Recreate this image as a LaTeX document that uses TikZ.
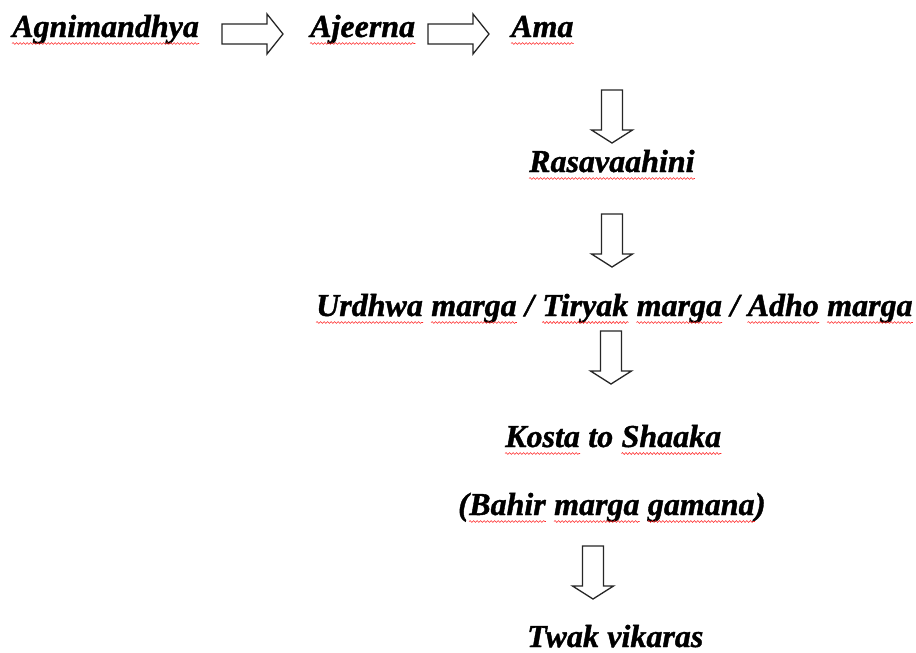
\documentclass[tikz,border=0pt]{standalone}
\usepackage{fontspec}
\setmainfont[BoldItalicFeatures={FakeBold=1.2}]{Liberation Serif}
\usetikzlibrary{decorations.pathmorphing}
\tikzset{
  wd/.style={inner sep=0pt, anchor=base west, font=\fontsize{32}{38}\selectfont\bfseries\itshape},
  wave/.style={draw=red!85, line width=0.55pt, decorate, decoration={snake, amplitude=0.9pt, segment length=3.5pt}},
  arrowline/.style={draw=black!85, fill=white, line width=1.3pt, line join=miter},
  rarrow/.pic={\path[arrowline] (0,-10) -- (45,-10) -- (45,-20) -- (61,0) -- (45,20) -- (45,10) -- (0,10) -- cycle;},
  darrow/.pic={\path[arrowline] (-10.5,0) -- (-10.5,40) -- (-20.5,40) -- (0,53) -- (20.5,40) -- (10.5,40) -- (10.5,0) -- cycle;}
}
\newcommand\wav[1]{\path[wave] ([yshift=-6.5pt]#1.base west) -- ([yshift=-6.5pt]#1.base east);}
\begin{document}
\begin{tikzpicture}[x=1pt,y=-1pt]
\useasboundingbox[fill=white] (0,0) rectangle (916,653);
% top row
\node[wd] (agni) at (12,37) {Agnimandhya};
\node[wd] (ajeerna) at (310,37) {Ajeerna};
\node[wd] (ama) at (511,37) {Ama};
% Rasavaahini
\node[wd] (rasa) at (529,172) {Rasavaahini};
% marga line
\node[wd] (u1) at (316,316) {Urdhwa};
\node[wd] (u2) at ([xshift=8pt]u1.base east) {marga};
\node[wd] (s1) at ([xshift=8pt]u2.base east) {/};
\node[wd] (u3) at ([xshift=8pt]s1.base east) {Tiryak};
\node[wd] (u4) at ([xshift=8pt]u3.base east) {marga};
\node[wd] (s2) at ([xshift=8pt]u4.base east) {/};
\node[wd] (u5) at ([xshift=8pt]s2.base east) {Adho};
\node[wd] (u6) at ([xshift=8pt]u5.base east) {marga};
% Kosta to Shaaka
\node[wd] (k1) at (505,447) {Kosta};
\node[wd] (k2) at ([xshift=8pt]k1.base east) {to};
\node[wd] (k3) at ([xshift=8pt]k2.base east) {Shaaka};
% (Bahir marga gamana)
\node[wd] (b0) at (458,515) {(};
\node[wd] (b1) at (b0.base east) {Bahir};
\node[wd] (b2) at ([xshift=8pt]b1.base east) {marga};
\node[wd] (b3) at ([xshift=8pt]b2.base east) {gamana};
\node[wd] (b4) at (b3.base east) {)};
% Twak vikaras
\node[wd] (t1) at (527,647) {Twak};
\node[wd] (t2) at ([xshift=8pt]t1.base east) {vikaras};
% spell-check waves
\foreach \n in {agni,ajeerna,ama,rasa,u1,u2,u3,u4,u5,u6,k1,k3,b1,b2,b3} {\wav{\n}}
% block arrows
\pic at (222,34) {rarrow};
\pic at (428,34) {rarrow};
\pic at (612,90) {darrow};
\pic at (612,214) {darrow};
\pic at (611,331) {darrow};
\pic at (593,546) {darrow};
\end{tikzpicture}
\end{document}
